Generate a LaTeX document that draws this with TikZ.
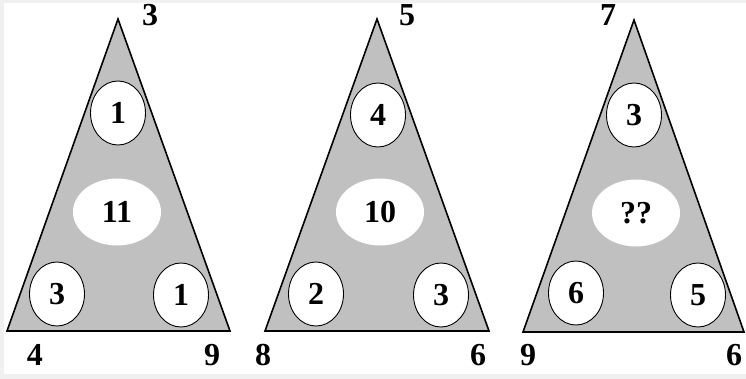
\documentclass[tikz,border=0pt]{standalone}
\usepackage{fontspec}
\setmainfont{Liberation Serif}
\usepackage{xcolor}
\definecolor{Fond}{RGB}{192,192,192}
\definecolor{Cadre}{RGB}{240,240,240}
\usepackage{tikz}
\usetikzlibrary{shapes}
\tikzstyle{Tri}=[draw=black,fill=Fond,line width=1.6pt,line join=miter]
\tikzstyle{Bulle}=[ellipse,draw=black,fill=white,line width=0.9pt,
minimum width=55pt,minimum height=64pt,inner sep=0pt,
font=\fontsize{32}{32}\selectfont\bfseries]
\tikzstyle{Centre}=[ellipse,fill=white,minimum width=88pt,
minimum height=67pt,inner sep=0pt,font=\fontsize{32}{32}\selectfont\bfseries]
\tikzstyle{Coin}=[inner sep=0pt,font=\fontsize{32}{32}\selectfont\bfseries]

\begin{document}
\begin{tikzpicture}[x=1pt,y=-1pt]
        \fill[Cadre](0,0)rectangle(746,379);
        \fill[white](4,3)rectangle(746,374);
        \useasboundingbox(0,0)rectangle(746,379);
        % triangle 1
        \coordinate(A1)at(118,19);
        \coordinate(B1)at(7,331);
        \coordinate(C1)at(230,331);
        \draw[Tri](A1)--(B1)--(C1)--cycle;
        \node[Bulle](h1)at(118,113){1};
        \node[Centre](m1)at(117,212){11};
        \node[Bulle](g1)at(57,294){3};
        \node[Bulle](d1)at(181,295){1};
        \node[Coin](s1)at(150,15){3};
        \node[Coin](l1)at(35,355){4};
        \node[Coin](r1)at(212,355){9};
        % triangle 2
        \coordinate(A2)at(377,19);
        \coordinate(B2)at(265,331);
        \coordinate(C2)at(489,331);
        \draw[Tri](A2)--(B2)--(C2)--cycle;
        \node[Bulle](h2)at(378,115){4};
        \node[Centre](m2)at(380,212){10};
        \node[Bulle](g2)at(316,294){2};
        \node[Bulle](d2)at(441,295){3};
        \node[Coin](s2)at(407,15){5};
        \node[Coin](l2)at(263,355){8};
        \node[Coin](r2)at(478,355){6};
        % triangle 3
        \coordinate(A3)at(634,20);
        \coordinate(B3)at(523,332);
        \coordinate(C3)at(744,332);
        \draw[Tri](A3)--(B3)--(C3)--cycle;
        \node[Bulle](h3)at(634,115){3};
        \node[Centre](m3)at(636,213){??};
        \node[Bulle](g3)at(576,293){6};
        \node[Bulle](d3)at(698,295){5};
        \node[Coin](s3)at(608,15){7};
        \node[Coin](l3)at(528,355){9};
        \node[Coin](r3)at(734,355){6};
    \end{tikzpicture}
\end{document}
